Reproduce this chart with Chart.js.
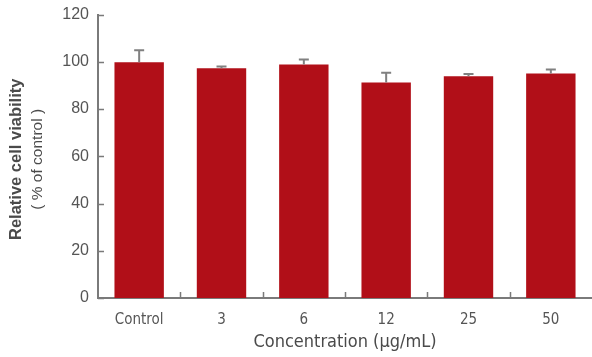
<!DOCTYPE html>
<html>
<head>
<meta charset="utf-8">
<script src="https://cdn.jsdelivr.net/npm/chart.js@4.4.1/dist/chart.umd.min.js"></script>
<style>
  html, body { margin: 0; padding: 0; background: #fff; overflow: hidden; }
  #wrap { width: 592px; height: 361px; margin-top: -4px; position: relative; }
</style>
</head>
<body>
<div id="wrap"><canvas id="myChart"></canvas></div>
<script>
// số liệu
const concentrations = ['Control', '3', '6', '12', '25', '50'];
const viability = [99.8, 97.3, 98.9, 91.3, 93.9, 95.1];
const viabilitySD = [5.1, 0.7, 2.1, 4.1, 0.9, 1.7];
const yTicks = [0, 20, 40, 60, 80, 100, 120];

const narrow = "'Liberation Sans Narrow', 'DejaVu Sans Condensed', 'Liberation Sans', sans-serif";
const axisColor = '#7a7a7a';

// thanh sai số (chỉ vẽ phía trên)
const errorBars = {
  id: 'errorBars',
  afterDatasetsDraw(chart) {
    const ctx = chart.ctx;
    const y = chart.scales.y;
    const meta = chart.getDatasetMeta(0);
    ctx.save();
    ctx.strokeStyle = '#808080';
    ctx.lineWidth = 2;
    meta.data.forEach(function (bar, i) {
      const top = y.getPixelForValue(viability[i] + viabilitySD[i]);
      ctx.beginPath();
      ctx.moveTo(bar.x, bar.y);
      ctx.lineTo(bar.x, top);
      ctx.moveTo(bar.x - 5, top);
      ctx.lineTo(bar.x + 5, top);
      ctx.stroke();
    });
    ctx.restore();
  }
};

// vạch chia hướng vào trong + nhãn trục tung 2 dòng
const axisExtras = {
  id: 'axisExtras',
  afterDraw(chart) {
    const ctx = chart.ctx;
    const x = chart.scales.x;
    const y = chart.scales.y;
    const area = chart.chartArea;
    ctx.save();
    ctx.strokeStyle = axisColor;
    ctx.lineWidth = 1.5;
    ctx.beginPath();
    yTicks.forEach(function (v) {
      const py = Math.round(y.getPixelForValue(v)) + 0.5;
      ctx.moveTo(area.left, py);
      ctx.lineTo(area.left + 6, py);
    });
    for (let i = 1; i < concentrations.length; i++) {
      const px = Math.round((x.getPixelForValue(i - 1) + x.getPixelForValue(i)) / 2) + 0.5;
      ctx.moveTo(px, area.bottom);
      ctx.lineTo(px, area.bottom - 6);
    }
    ctx.stroke();

    const cy = (area.top + area.bottom) / 2 + 3;
    ctx.translate(0, cy);
    ctx.rotate(-Math.PI / 2);
    ctx.textAlign = 'center';
    ctx.textBaseline = 'middle';
    ctx.fillStyle = '#4a4a4a';
    ctx.font = "bold 16.5px 'Liberation Sans', Arial, sans-serif";
    ctx.fillText('Relative cell viability', 0, 16);
    ctx.font = "15.5px 'Liberation Sans', Arial, sans-serif";
    ctx.fillText('( % of control )', 0, 38);
    ctx.restore();
  }
};

new Chart(document.getElementById('myChart'), {
  type: 'bar',
  data: {
    labels: concentrations,
    datasets: [{
      data: viability,
      backgroundColor: '#b10f18',
      borderWidth: 0,
      barPercentage: 0.6,
      categoryPercentage: 1
    }]
  },
  options: {
    responsive: true,
    maintainAspectRatio: false,
    animation: false,
    layout: { padding: { top: 4, right: 0, left: 0, bottom: 0 } },
    plugins: {
      legend: { display: false },
      tooltip: { enabled: false }
    },
    scales: {
      x: {
        grid: { display: false, drawTicks: false },
        border: { color: axisColor, width: 2 },
        ticks: {
          color: '#555',
          padding: 13,
          font: { family: narrow, size: 15 }
        },
        title: {
          display: true,
          text: 'Concentration (μg/mL)',
          color: '#4a4a4a',
          padding: { top: 0, bottom: 4 },
          font: { family: narrow, size: 18, weight: '500' }
        },
        afterFit: function (scale) { scale.height = 59; }
      },
      y: {
        min: 0,
        max: 120,
        afterBuildTicks: function (scale) {
          scale.ticks = yTicks.map(function (v) { return { value: v }; });
        },
        grid: { display: false, drawTicks: false },
        border: { color: axisColor, width: 2 },
        ticks: {
          color: '#555',
          padding: 9,
          font: { family: "'Liberation Sans', Arial, sans-serif", size: 16 }
        },
        afterFit: function (scale) { scale.width = 98; }
      }
    }
  },
  plugins: [errorBars, axisExtras]
});
</script>
</body>
</html>
